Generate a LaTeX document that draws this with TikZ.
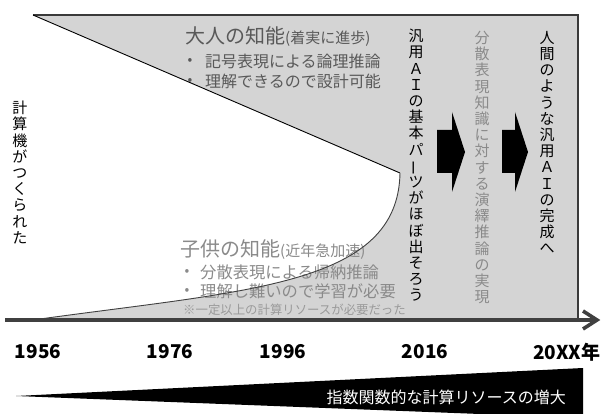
\documentclass[tikz,border=0pt]{standalone}
\usepackage{fontspec}
\setmainfont{Noto Sans CJK JP}
\definecolor{gfill}{HTML}{D4D4D4}
\definecolor{bordercol}{HTML}{3A3A3A}
\definecolor{axiscol}{HTML}{404040}
\definecolor{adulttext}{HTML}{595959}
\definecolor{childtext}{HTML}{8A8A8A}
\definecolor{notetext}{HTML}{9A9A9A}
\newcommand{\vbar}{\rotatebox[origin=c]{90}{ー}}
\tikzset{
  vtext/.style={anchor=north, inner sep=0pt, align=center, font=\fontsize{15}{16.2}\selectfont},
  txt/.style={anchor=west, inner sep=0pt},
  bul/.style={inner sep=0pt, font=\fontsize{14}{14}\selectfont},
  yearlbl/.style={inner sep=0pt, font=\fontsize{19}{19}\selectfont\bfseries},
  blockarrow/.style={fill=black}
}
\begin{document}
\begin{tikzpicture}[x=1pt,y=-1pt]
\useasboundingbox (0,0) rectangle (603,414);
\clip (0,0) rectangle (603,414);
% gray region
\coordinate (tl) at (33,15);
\coordinate (tr) at (578,15);
\coordinate (br) at (578,320);
\coordinate (cs) at (40,319);
\coordinate (meet) at (400,173);
\fill[gfill] (tl) -- (tr) -- (br) -- (40,320) -- (cs) .. controls (250,290) and (398,285) .. (meet) -- cycle;

% adult text
\node[txt, text=adulttext] (adult) at (185,37) {{\fontsize{20}{20}\selectfont 大人の知能}{\fontsize{15}{15}\selectfont (着実に進歩)}};
\node[bul, text=adulttext] (ab1) at (190,61) {•};
\node[txt, text=adulttext, font=\fontsize{16}{16}\selectfont] (a1) at (205,61) {記号表現による論理推論};
\node[bul, text=adulttext] (ab2) at (190,81) {•};
\node[txt, text=adulttext, font=\fontsize{16}{16}\selectfont] (a2) at (205,81) {理解できるので設計可能};

% child text
\node[txt, text=childtext] (child) at (180,250) {{\fontsize{20}{20}\selectfont 子供の知能}{\fontsize{15}{15}\selectfont (近年急加速)}};
\node[bul, text=childtext] (cb1) at (187,272) {•};
\node[txt, text=childtext, font=\fontsize{16.3}{16.3}\selectfont] (c1) at (200,272) {分散表現による帰納推論};
\node[bul, text=childtext] (cb2) at (187,291) {•};
\node[txt, text=childtext, font=\fontsize{16.3}{16.3}\selectfont] (c2) at (200,291) {理解し難いので学習が必要};
\node[txt, text=notetext, font=\fontsize{12.4}{12.4}\selectfont] (note) at (183,310) {※一定以上の計算リソースが必要だった};

% boundary lines
\draw[bordercol, line width=1.6pt] (tl) -- (tr) -- (br);
\draw[black, line width=0.9pt] (tl) -- (meet);
\draw[axiscol, line width=0.9pt] (cs) .. controls (250,290) and (398,285) .. (meet);

% vertical texts
\node[vtext] (v1) at (416,29) {汎\\用\\Ａ\\Ｉ\\の\\基\\本\\パ\\\vbar\\ツ\\が\\ほ\\ぼ\\出\\そ\\ろ\\う};
\node[vtext, text=childtext] (v2) at (482,31) {分\\散\\表\\現\\知\\識\\に\\対\\す\\る\\演\\繹\\推\\論\\の\\実\\現};
\node[vtext] (v3) at (547,31) {人\\間\\の\\よ\\う\\な\\汎\\用\\Ａ\\Ｉ\\の\\完\\成\\へ};
\node[vtext] (v0) at (20,101) {計\\算\\機\\が\\つ\\く\\ら\\れ\\た};

% block arrows
\fill[blockarrow] (437,130) -- (452,130) -- (452,112) -- (465,152) -- (452,192) -- (452,173) -- (437,173) -- cycle;
\fill[blockarrow] (502,130) -- (515,130) -- (515,112) -- (528,152) -- (515,192) -- (515,173) -- (502,173) -- cycle;

% axis
\coordinate (ax0) at (5,320);
\coordinate (ax1) at (595,320);
\draw[axiscol, line width=4pt] (ax0) -- (ax1);
\draw[axiscol, line width=3.6pt, miter limit=10] (583,311) -- (597,320) -- (583,329);

% years
\node[yearlbl] (y1) at (38,352) {1956};
\node[yearlbl] (y2) at (170,352) {1976};
\node[yearlbl] (y3) at (283,352) {1996};
\node[yearlbl] (y4) at (425,352) {2016};
\node[yearlbl, anchor=west] (y5) at (533,352) {20XX年};

% wedge
\fill[black] (16,396) -- (583,368) -- (583,418) -- cycle;
\node[anchor=east, inner sep=0pt, text=white, font=\fontsize{16}{16}\selectfont] (wedge) at (566,397) {指数関数的な計算リソースの増大};
\end{tikzpicture}
\end{document}
